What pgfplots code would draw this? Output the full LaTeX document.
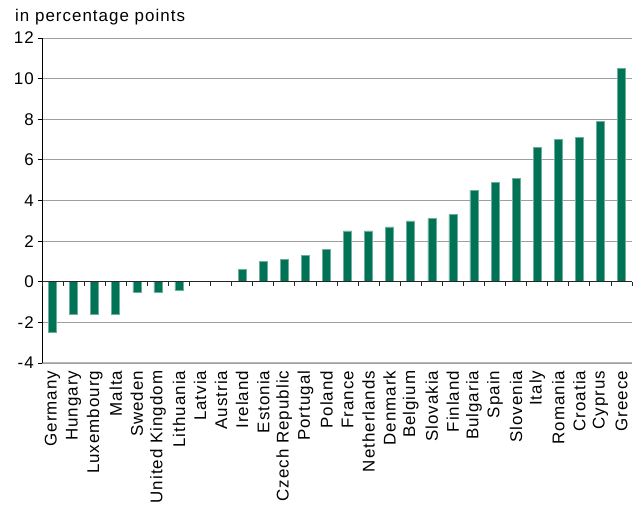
\documentclass[border=0pt]{standalone}
\usepackage{fontspec}
\setmainfont[LetterSpace=6]{Liberation Sans}
\usepackage{pgfplots}
\pgfplotsset{compat=1.18}
\definecolor{barg}{RGB}{0,114,86}
\definecolor{bare}{RGB}{110,175,155}
\begin{document}
\fontsize{17}{20}\selectfont
\begin{tikzpicture}[x=1bp,y=1bp]
\path[use as bounding box] (0,0) rectangle (640,505);
\node[anchor=base west, inner sep=0pt] at (15,483.5) {in percentage points};
\begin{axis}[at={(42bp,142bp)}, anchor=south west, scale only axis,
  width=590bp, height=325bp,
  xmin=-0.5, xmax=27.5, ymin=-4, ymax=12,
  ytick={-4,-2,...,12},
  axis y line*=left, axis x line*=bottom,
  x axis line style={draw=gray!55, line width=1pt},
  y axis line style={black, line width=0.9pt},
  xtick={0,...,27},
  xticklabels={Germany,Hungary,Luxembourg,Malta,Sweden,United Kingdom,Lithuania,Latvia,Austria,Ireland,Estonia,Czech Republic,Portugal,Poland,France,Netherlands,Denmark,Belgium,Slovakia,Finland,Bulgaria,Spain,Slovenia,Italy,Romania,Croatia,Cyprus,Greece},
  xtick style={draw=none},
  xticklabel style={rotate=90, anchor=east, inner sep=0pt, font=\fontsize{17}{20}\selectfont},
  xticklabel shift=3.5bp,
  ymajorgrids, grid style={gray!75, line width=0.8pt},
  ytick style={black, line width=0.8pt},
  tick align=outside, major tick length=4bp,
  yticklabel style={font=\fontsize{17}{20}\selectfont, inner sep=0pt},
  yticklabel shift=4bp,
  /pgf/number format/assume math mode=true,
  ybar, bar width=8bp,
]
\addplot[fill=barg, draw=bare, line width=0.6pt] coordinates {
(0,-2.5) (1,-1.6) (2,-1.6) (3,-1.6) (4,-0.5) (5,-0.5) (6,-0.4) (7,0) (8,0)
(9,0.6) (10,1.0) (11,1.1) (12,1.3) (13,1.6) (14,2.5) (15,2.5) (16,2.7)
(17,3.0) (18,3.1) (19,3.3) (20,4.5) (21,4.9) (22,5.1) (23,6.6) (24,7.0)
(25,7.1) (26,7.9) (27,10.5)};
\end{axis}
\begin{axis}[at={(42bp,142bp)}, anchor=south west, scale only axis,
  width=590bp, height=325bp,
  xmin=-0.5, xmax=27.5, ymin=-4, ymax=12,
  axis x line=middle, axis y line=none,
  x axis line style={-, black!85, line width=0.9pt},
  xtick={-0.5,0.5,...,27.5}, xticklabels={},
  xtick style={black!85, line width=0.8pt},
  tick align=outside, major tick length=4bp,
]
\end{axis}
\end{tikzpicture}
\end{document}
